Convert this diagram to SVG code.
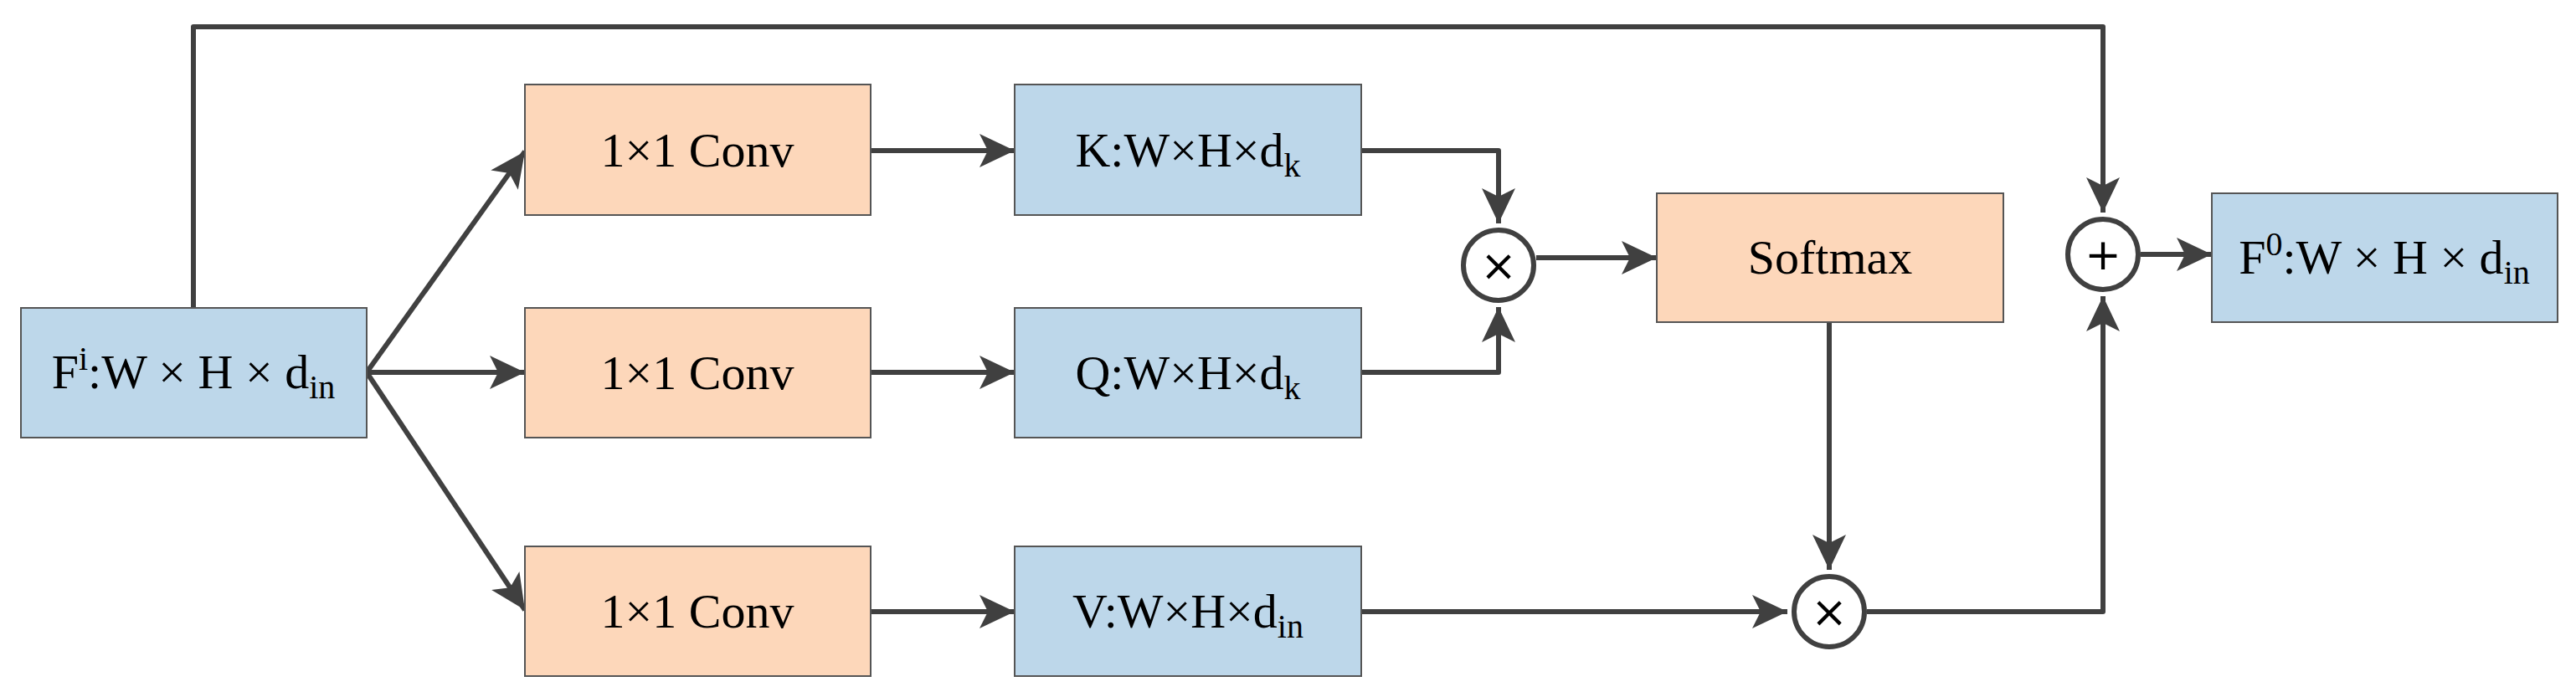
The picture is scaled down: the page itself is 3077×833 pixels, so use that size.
<svg xmlns="http://www.w3.org/2000/svg" width="3077" height="833" viewBox="0 0 3077 833">
<style>
.b{fill:#BDD7EA;stroke:#555;stroke-width:2}
.o{fill:#FDD7BA;stroke:#555;stroke-width:2}
.t{font-family:"Liberation Serif",serif;font-size:58px;fill:#000;text-anchor:middle}
.s{font-size:40px}
.c{fill:#fff;stroke:#404040;stroke-width:6}
.op{font-family:"DejaVu Sans",sans-serif;font-size:52px;fill:#000;text-anchor:middle}
.l{fill:none;stroke:#404040;stroke-width:6;stroke-linejoin:round}
</style>
<defs>
<marker id="a" markerUnits="userSpaceOnUse" markerWidth="44" markerHeight="44" viewBox="-42 -22 44 44" refX="0" refY="0" orient="auto">
<path d="M0,0 L-42,-20 L-32,0 L-42,20 Z" fill="#404040"/>
</marker>
</defs>
<g id="connectors">
<path class="l" d="M231,368 V32 H2512 V254" marker-end="url(#a)"/>
<path class="l" d="M438,445 L627,181" marker-end="url(#a)"/>
<path class="l" d="M438,445 L627,445" marker-end="url(#a)"/>
<path class="l" d="M438,445 L627,729" marker-end="url(#a)"/>
<path class="l" d="M1040,180 H1212" marker-end="url(#a)"/>
<path class="l" d="M1040,445 H1212" marker-end="url(#a)"/>
<path class="l" d="M1040,731 H1212" marker-end="url(#a)"/>
<path class="l" d="M1626,180 H1790 V267" marker-end="url(#a)"/>
<path class="l" d="M1626,445 H1790 V367" marker-end="url(#a)"/>
<path class="l" d="M1835,308 H1979" marker-end="url(#a)"/>
<path class="l" d="M2185,385 V681" marker-end="url(#a)"/>
<path class="l" d="M1626,731 H2135" marker-end="url(#a)"/>
<path class="l" d="M2230,731 H2512 V354" marker-end="url(#a)"/>
<path class="l" d="M2557,304 H2642" marker-end="url(#a)"/>
</g>
<g id="fin"><rect class="b" x="25" y="368" width="413" height="155"/><text class="t" x="231" y="464">F<tspan class="s" dy="-22">i</tspan><tspan dy="22">:W × H × d</tspan><tspan class="s" dy="12">in</tspan></text></g>
<g id="conv1"><rect class="o" x="627" y="101" width="413" height="156"/><text class="t" x="833" y="199">1×1 Conv</text></g>
<g id="conv2"><rect class="o" x="627" y="368" width="413" height="155"/><text class="t" x="833" y="465">1×1 Conv</text></g>
<g id="conv3"><rect class="o" x="627" y="653" width="413" height="155"/><text class="t" x="833" y="750">1×1 Conv</text></g>
<g id="k"><rect class="b" x="1212" y="101" width="414" height="156"/><text class="t" x="1419" y="199">K:W×H×d<tspan class="s" dy="12">k</tspan></text></g>
<g id="q"><rect class="b" x="1212" y="368" width="414" height="155"/><text class="t" x="1419" y="465">Q:W×H×d<tspan class="s" dy="12">k</tspan></text></g>
<g id="v"><rect class="b" x="1212" y="653" width="414" height="155"/><text class="t" x="1419" y="750">V:W×H×d<tspan class="s" dy="12">in</tspan></text></g>
<g id="mul1"><ellipse class="c" cx="1790" cy="317" rx="42" ry="42"/><text class="op" x="1790" y="335">×</text></g>
<g id="softmax"><rect class="o" x="1979" y="231" width="414" height="154"/><text class="t" x="2186" y="327">Softmax</text></g>
<g id="mul2"><ellipse class="c" cx="2185" cy="731" rx="42" ry="42"/><text class="op" x="2185" y="749">×</text></g>
<g id="add"><ellipse class="c" cx="2512" cy="304" rx="42" ry="42"/><text class="op" x="2512" y="322">+</text></g>
<g id="fout"><rect class="b" x="2642" y="231" width="413" height="154"/><text class="t" x="2848" y="327">F<tspan class="s" dy="-22">0</tspan><tspan dy="22">:W × H × d</tspan><tspan class="s" dy="12">in</tspan></text></g>
</svg>
